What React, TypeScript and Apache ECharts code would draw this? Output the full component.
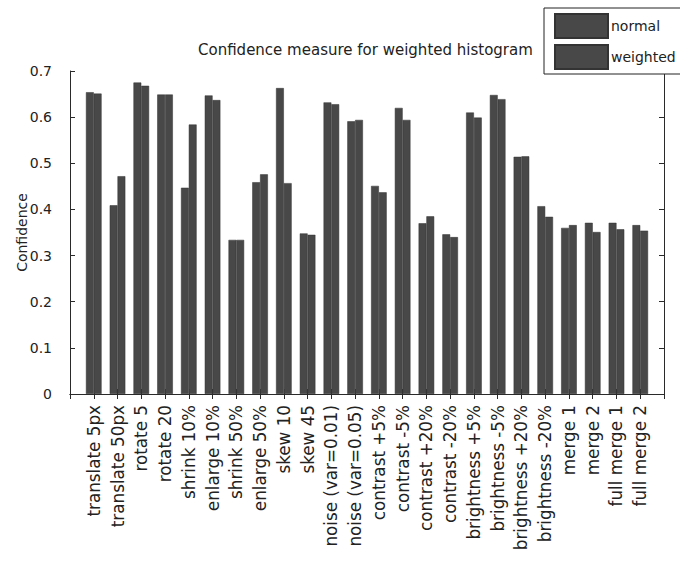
import React, { useEffect, useRef } from "react";
import * as echarts from "echarts";

const categories = [
  "translate 5px", "translate 50px", "rotate 5", "rotate 20", "shrink 10%", "enlarge 10%",
  "shrink 50%", "enlarge 50%", "skew 10", "skew 45", "noise (var=0.01)", "noise (var=0.05)",
  "contrast +5%", "contrast -5%", "contrast +20%", "contrast -20%", "brightness +5%",
  "brightness -5%", "brightness +20%", "brightness -20%", "merge 1", "merge 2",
  "full merge 1", "full merge 2",
];
const normalValues = [
  0.654, 0.409, 0.675, 0.649, 0.447, 0.647, 0.334, 0.459, 0.663, 0.348, 0.632, 0.591,
  0.451, 0.620, 0.370, 0.346, 0.610, 0.648, 0.514, 0.407, 0.360, 0.371, 0.371, 0.366,
];
const weightedValues = [
  0.651, 0.472, 0.668, 0.649, 0.584, 0.637, 0.334, 0.476, 0.457, 0.345, 0.628, 0.594,
  0.437, 0.594, 0.385, 0.340, 0.599, 0.639, 0.515, 0.384, 0.366, 0.351, 0.357, 0.354,
];
const seriesNames = ["normal", "weighted"];
const titleText = "Confidence measure for weighted histogram";
const yName = "Confidence";

export default function App() {
  const ref = useRef<HTMLDivElement>(null);
  useEffect(() => {
    document.body.style.margin = "0";
    if (!ref.current) return;
    const chart = echarts.init(ref.current, undefined, { renderer: "svg" });
    const font = "DejaVu Sans";
    const axisColor = "#2a2a2a";
    const cats = ["", ...categories, ""];
    const pad = (arr: number[]) => [null, ...arr, null];
    const barColor = "#484848";
    chart.setOption({
      animation: false,
      backgroundColor: "#ffffff",
      textStyle: { fontFamily: font, color: "#222" },
      title: {
        text: titleText,
        left: 198,
        top: 42,
        padding: 0,
        textStyle: { fontFamily: font, fontSize: 15, fontWeight: "normal", color: "#222" },
      },
      legend: {
        data: seriesNames,
        orient: "vertical",
        left: 544,
        top: 8,
        padding: [5, 12, 4, 10],
        itemWidth: 53,
        itemHeight: 24,
        itemGap: 5,
        borderColor: "#222",
        borderWidth: 1,
        backgroundColor: "#fff",
        icon: "rect",
        textStyle: { fontFamily: font, fontSize: 14, color: "#222", padding: [0, 0, 0, -2] },
      },
      grid: { left: 70, top: 71, width: 594, height: 323, containLabel: false },
      xAxis: [
        {
          type: "category",
          data: cats,
          boundaryGap: false,
          position: "bottom",
          axisLine: { show: true, lineStyle: { color: axisColor, width: 1 } },
          axisTick: { show: true, inside: true, length: 5, interval: 0, lineStyle: { color: axisColor } },
          axisLabel: {
            interval: 0,
            rotate: 90,
            margin: 11,
            fontFamily: font,
            fontSize: 16.8,
            color: "#222",
          },
          splitLine: { show: false },
        },
        {
          type: "category",
          data: cats,
          boundaryGap: false,
          position: "top",
          axisLine: { show: true, lineStyle: { color: axisColor, width: 1 } },
          axisTick: { show: true, inside: true, length: 5, interval: 0, lineStyle: { color: axisColor } },
          axisLabel: { show: false },
          splitLine: { show: false },
        },
      ],
      yAxis: [
        {
          type: "value",
          min: 0,
          max: 0.7,
          interval: 0.1,
          position: "left",
          name: yName,
          nameLocation: "middle",
          nameGap: 41,
          nameMoveOverlap: false,
          nameTextStyle: { fontFamily: font, fontSize: 14, color: "#222" },
          axisLine: { show: true, lineStyle: { color: axisColor, width: 1 } },
          axisTick: { show: true, inside: true, length: 5, lineStyle: { color: axisColor } },
          axisLabel: {
            margin: 18,
            fontFamily: font,
            fontSize: 14,
            color: "#222",
            formatter: (v: number) => (v === 0 ? "0" : String(Math.round(v * 10) / 10)),
          },
          splitLine: { show: false },
        },
        {
          type: "value",
          min: 0,
          max: 0.7,
          interval: 0.1,
          position: "right",
          axisLine: { show: true, lineStyle: { color: axisColor, width: 1 } },
          axisTick: { show: true, inside: true, length: 5, lineStyle: { color: axisColor } },
          axisLabel: { show: false },
          splitLine: { show: false },
        },
      ],
      series: [
        {
          name: seriesNames[0],
          type: "bar",
          xAxisIndex: 0,
          yAxisIndex: 0,
          data: pad(normalValues),
          barWidth: 7.8,
          barGap: "0%",
          itemStyle: { color: barColor, borderColor: "#333", borderWidth: 0.5 },
        },
        {
          name: seriesNames[1],
          type: "bar",
          xAxisIndex: 0,
          yAxisIndex: 0,
          data: pad(weightedValues),
          barWidth: 7.8,
          barGap: "0%",
          itemStyle: { color: barColor, borderColor: "#333", borderWidth: 0.5 },
        },
      ],
    });
    return () => chart.dispose();
  }, []);
  return <div ref={ref} style={{ width: 680, height: 561 }} />;
}
